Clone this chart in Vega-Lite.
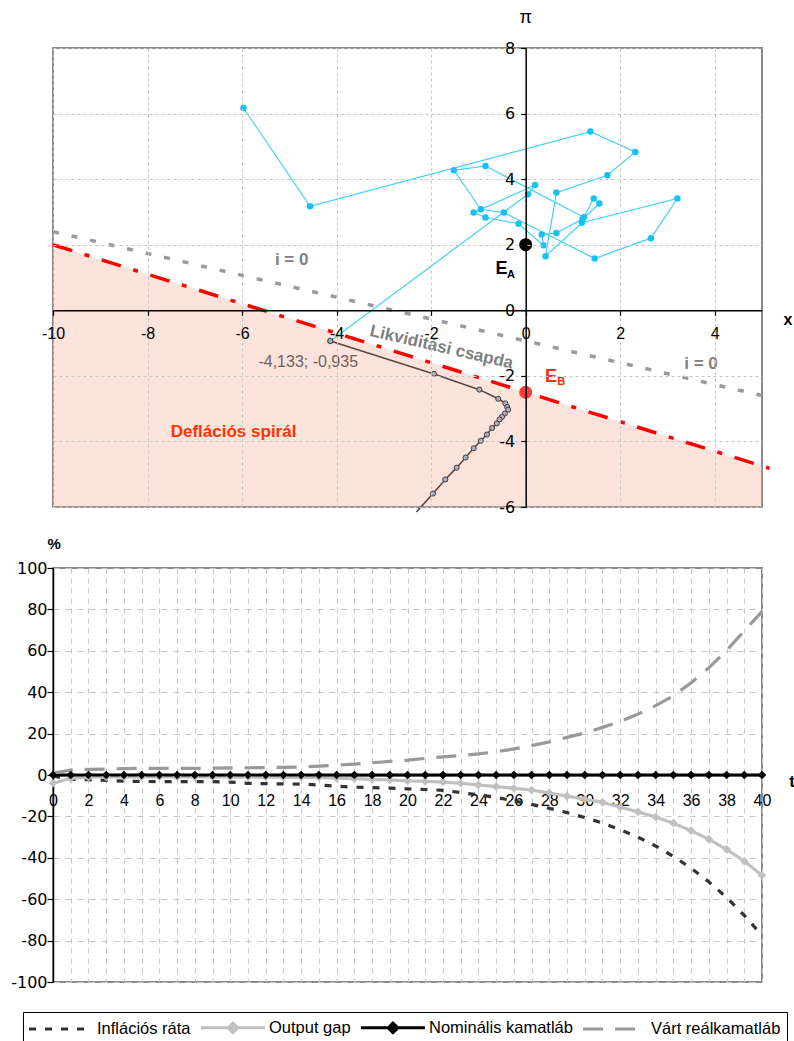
{
  "$schema": "https://vega.github.io/schema/vega-lite/v6.json",
  "background": "white",
  "padding": {"left": 9, "top": 8, "right": 5, "bottom": 0},
  "spacing": 18,
  "config": {
    "font": "Liberation Sans",
    "view": {"stroke": "#8a8a8a", "strokeWidth": 2},
    "axis": {
      "labelFont": "Liberation Sans",
      "labelColor": "#000000",
      "labelFontSize": 16,
      "domainColor": "#000000",
      "domainWidth": 1.5,
      "tickColor": "#000000",
      "tickWidth": 1.2,
      "gridColor": "#c6c6c6",
      "gridWidth": 1
    },
    "legend": {
      "orient": "none",
      "legendX": -30,
      "legendY": 964,
      "direction": "horizontal",
      "columns": 4,
      "symbolSize": 256,
      "symbolStrokeWidth": 3,
      "symbolOffset": 22.5,
      "labelOffset": 26.5,
      "labelFont": "Liberation Sans",
      "labelFontSize": 16.5,
      "labelColor": "#000000",
      "labelLimit": 300,
      "columnPadding": 4,
      "strokeColor": "#000000",
      "strokeWidth": 1,
      "padding": 6
    }
  },
  "datasets": {
    "cyan": [
      {"step": 1, "x": -5.97, "y": 6.17},
      {"step": 2, "x": -4.56, "y": 3.17},
      {"step": 3, "x": 1.37, "y": 5.45},
      {"step": 4, "x": 2.32, "y": 4.83},
      {"step": 5, "x": 1.73, "y": 4.12},
      {"step": 6, "x": 0.65, "y": 3.59},
      {"step": 7, "x": 0.42, "y": 1.65},
      {"step": 8, "x": 1.19, "y": 2.67},
      {"step": 9, "x": 3.21, "y": 3.41},
      {"step": 10, "x": 2.65, "y": 2.2},
      {"step": 11, "x": 1.46, "y": 1.58},
      {"step": 12, "x": -0.46, "y": 2.98},
      {"step": 13, "x": -0.95, "y": 3.08},
      {"step": 14, "x": -1.52, "y": 4.27},
      {"step": 15, "x": -0.85, "y": 4.4},
      {"step": 16, "x": 1.23, "y": 2.84},
      {"step": 17, "x": 1.44, "y": 3.41},
      {"step": 18, "x": 1.56, "y": 3.26},
      {"step": 19, "x": 1.2, "y": 2.78},
      {"step": 20, "x": 0.65, "y": 2.36},
      {"step": 21, "x": 0.34, "y": 2.31},
      {"step": 22, "x": 0.38, "y": 1.98},
      {"step": 23, "x": -0.15, "y": 2.64},
      {"step": 24, "x": -0.85, "y": 2.83},
      {"step": 25, "x": -1.1, "y": 2.98},
      {"step": 26, "x": 0.2, "y": 3.82},
      {"step": 27, "x": 0.05, "y": 3.54},
      {"step": 28, "x": -4.133, "y": -0.935}
    ],
    "brown": [
      {"step": 1, "x": -4.133, "y": -0.935},
      {"step": 2, "x": -1.94, "y": -1.94},
      {"step": 3, "x": -0.98, "y": -2.42},
      {"step": 4, "x": -0.58, "y": -2.7},
      {"step": 5, "x": -0.43, "y": -2.84},
      {"step": 6, "x": -0.39, "y": -2.95},
      {"step": 7, "x": -0.37, "y": -3.03},
      {"step": 8, "x": -0.44, "y": -3.15},
      {"step": 9, "x": -0.5, "y": -3.25},
      {"step": 10, "x": -0.55, "y": -3.33},
      {"step": 11, "x": -0.61, "y": -3.45},
      {"step": 12, "x": -0.71, "y": -3.59},
      {"step": 13, "x": -0.82, "y": -3.79},
      {"step": 14, "x": -0.95, "y": -3.98},
      {"step": 15, "x": -1.1, "y": -4.21},
      {"step": 16, "x": -1.27, "y": -4.49},
      {"step": 17, "x": -1.46, "y": -4.8},
      {"step": 18, "x": -1.7, "y": -5.16},
      {"step": 19, "x": -1.96, "y": -5.59},
      {"step": 20, "x": -2.31, "y": -6.15}
    ],
    "macro": [
      {"t": 0, "Inflációs ráta": -0.5, "Output gap": -4.0, "Nominális kamatláb": 0, "Várt reálkamatláb": 0.8},
      {"t": 1, "Inflációs ráta": -2.1, "Output gap": -1.6, "Nominális kamatláb": 0, "Várt reálkamatláb": 2.4},
      {"t": 2, "Inflációs ráta": -2.3, "Output gap": -1.0, "Nominális kamatláb": 0, "Várt reálkamatláb": 2.7},
      {"t": 3, "Inflációs ráta": -2.6, "Output gap": -0.9, "Nominális kamatláb": 0, "Várt reálkamatláb": 2.9},
      {"t": 4, "Inflációs ráta": -3.0, "Output gap": -0.9, "Nominális kamatláb": 0, "Várt reálkamatláb": 3.1},
      {"t": 5, "Inflációs ráta": -3.1, "Output gap": -0.9, "Nominális kamatláb": 0, "Várt reálkamatláb": 3.2},
      {"t": 6, "Inflációs ráta": -3.2, "Output gap": -0.9, "Nominális kamatláb": 0, "Várt reálkamatláb": 3.2},
      {"t": 7, "Inflációs ráta": -3.2, "Output gap": -0.9, "Nominális kamatláb": 0, "Várt reálkamatláb": 3.2},
      {"t": 8, "Inflációs ráta": -3.2, "Output gap": -0.9, "Nominális kamatláb": 0, "Várt reálkamatláb": 3.2},
      {"t": 9, "Inflációs ráta": -3.2, "Output gap": -0.9, "Nominális kamatláb": 0, "Várt reálkamatláb": 3.3},
      {"t": 10, "Inflációs ráta": -3.4, "Output gap": -1.0, "Nominális kamatláb": 0, "Várt reálkamatláb": 3.4},
      {"t": 11, "Inflációs ráta": -4.0, "Output gap": -1.0, "Nominális kamatláb": 0, "Várt reálkamatláb": 3.5},
      {"t": 12, "Inflációs ráta": -4.2, "Output gap": -1.0, "Nominális kamatláb": 0, "Várt reálkamatláb": 3.6},
      {"t": 13, "Inflációs ráta": -4.3, "Output gap": -1.1, "Nominális kamatláb": 0, "Várt reálkamatláb": 3.7},
      {"t": 14, "Inflációs ráta": -4.4, "Output gap": -1.1, "Nominális kamatláb": 0, "Várt reálkamatláb": 3.9},
      {"t": 15, "Inflációs ráta": -4.8, "Output gap": -1.2, "Nominális kamatláb": 0, "Várt reálkamatláb": 4.3},
      {"t": 16, "Inflációs ráta": -5.4, "Output gap": -1.5, "Nominális kamatláb": 0, "Várt reálkamatláb": 4.7},
      {"t": 17, "Inflációs ráta": -5.9, "Output gap": -1.8, "Nominális kamatláb": 0, "Várt reálkamatláb": 5.3},
      {"t": 18, "Inflációs ráta": -6.1, "Output gap": -2.1, "Nominális kamatláb": 0, "Várt reálkamatláb": 5.9},
      {"t": 19, "Inflációs ráta": -6.3, "Output gap": -2.4, "Nominális kamatláb": 0, "Várt reálkamatláb": 6.6},
      {"t": 20, "Inflációs ráta": -6.7, "Output gap": -2.8, "Nominális kamatláb": 0, "Várt reálkamatláb": 7.2},
      {"t": 21, "Inflációs ráta": -7.0, "Output gap": -3.1, "Nominális kamatláb": 0, "Várt reálkamatláb": 8.0},
      {"t": 22, "Inflációs ráta": -7.4, "Output gap": -3.4, "Nominális kamatláb": 0, "Várt reálkamatláb": 8.8},
      {"t": 23, "Inflációs ráta": -8.5, "Output gap": -4.0, "Nominális kamatláb": 0, "Várt reálkamatláb": 9.4},
      {"t": 24, "Inflációs ráta": -9.6, "Output gap": -4.8, "Nominális kamatláb": 0, "Várt reálkamatláb": 10.2},
      {"t": 25, "Inflációs ráta": -10.8, "Output gap": -5.6, "Nominális kamatláb": 0, "Várt reálkamatláb": 11.2},
      {"t": 26, "Inflációs ráta": -12.5, "Output gap": -6.4, "Nominális kamatláb": 0, "Várt reálkamatláb": 12.6},
      {"t": 27, "Inflációs ráta": -14.2, "Output gap": -7.3, "Nominális kamatláb": 0, "Várt reálkamatláb": 14.2},
      {"t": 28, "Inflációs ráta": -16.1, "Output gap": -8.7, "Nominális kamatláb": 0, "Várt reálkamatláb": 16.0},
      {"t": 29, "Inflációs ráta": -18.2, "Output gap": -10.2, "Nominális kamatláb": 0, "Várt reálkamatláb": 18.2},
      {"t": 30, "Inflációs ráta": -20.5, "Output gap": -11.7, "Nominális kamatláb": 0, "Várt reálkamatláb": 20.3},
      {"t": 31, "Inflációs ráta": -23.2, "Output gap": -13.2, "Nominális kamatláb": 0, "Várt reálkamatláb": 23.0},
      {"t": 32, "Inflációs ráta": -26.4, "Output gap": -15.5, "Nominális kamatláb": 0, "Várt reálkamatláb": 25.8},
      {"t": 33, "Inflációs ráta": -30.0, "Output gap": -17.8, "Nominális kamatláb": 0, "Várt reálkamatláb": 29.4},
      {"t": 34, "Inflációs ráta": -34.3, "Output gap": -20.3, "Nominális kamatláb": 0, "Várt reálkamatláb": 33.5},
      {"t": 35, "Inflációs ráta": -39.3, "Output gap": -23.3, "Nominális kamatláb": 0, "Várt reálkamatláb": 38.3},
      {"t": 36, "Inflációs ráta": -45.0, "Output gap": -26.9, "Nominális kamatláb": 0, "Várt reálkamatláb": 44.5},
      {"t": 37, "Inflációs ráta": -51.6, "Output gap": -31.0, "Nominális kamatláb": 0, "Várt reálkamatláb": 51.8},
      {"t": 38, "Inflációs ráta": -59.2, "Output gap": -35.9, "Nominális kamatláb": 0, "Várt reálkamatláb": 60.2},
      {"t": 39, "Inflációs ráta": -67.8, "Output gap": -41.6, "Nominális kamatláb": 0, "Várt reálkamatláb": 69.6},
      {"t": 40, "Inflációs ráta": -77.5, "Output gap": -48.5, "Nominális kamatláb": 0, "Várt reálkamatláb": 79.0}
    ]
  },
  "vconcat": [
    {
      "width": 709,
      "height": 459,
      "encoding": {
        "x": {
          "field": "x",
          "type": "quantitative",
          "scale": {"domain": [-10, 5], "nice": false, "zero": false},
          "axis": {
            "title": null,
            "orient": "bottom",
            "offset": -196.7,
            "values": [-10, -8, -6, -4, -2, 0, 2, 4],
            "labelExpr": "replace(datum.label, '−', '-')",
            "labelFlush": false,
            "labelOverlap": false,
            "tickSize": 5,
            "labelPadding": 10,
            "gridDash": [3, 3],
            "zindex": 1
          }
        },
        "y": {
          "field": "y",
          "type": "quantitative",
          "scale": {"domain": [-6, 8], "nice": false, "zero": false},
          "axis": {
            "title": null,
            "orient": "left",
            "offset": -472.7,
            "values": [-6, -4, -2, 0, 2, 4, 6, 8],
            "labelExpr": "replace(datum.label, '−', '-')",
            "labelFont": "DejaVu Sans",
            "labelFlush": false,
            "labelOverlap": false,
            "tickSize": 5,
            "labelPadding": 6,
            "gridDash": [3, 3],
            "zindex": 1
          }
        }
      },
      "layer": [
        {
          "data": {"values": [{"x": -10, "y": 2.0}, {"x": 5, "y": -4.75}]},
          "mark": {"type": "area", "color": "#f7a995", "opacity": 0.33},
          "encoding": {"y2": {"datum": -6}}
        },
        {
          "data": {"values": [{"x": -10, "y": 2.4}, {"x": 5, "y": -2.6}]},
          "mark": {"type": "line", "color": "#9a9a9a", "strokeWidth": 3.5, "strokeDash": [6, 13], "strokeCap": "butt", "clip": false},
          "encoding": {}
        },
        {
          "data": {"values": [{"x": -10, "y": 2.0}, {"x": 5.16, "y": -4.82}]},
          "mark": {"type": "line", "color": "#ff0000", "strokeWidth": 3.5, "strokeDash": [20, 13, 5, 13], "strokeCap": "butt", "clip": false},
          "encoding": {}
        },
        {
          "data": {"name": "cyan"},
          "mark": {"type": "line", "color": "#45cff5", "strokeWidth": 1.2, "point": {"filled": true, "size": 42, "color": "#14c3f2"}},
          "encoding": {"order": {"field": "step", "type": "quantitative"}}
        },
        {
          "data": {"name": "brown"},
          "mark": {"type": "line", "color": "#584842", "strokeWidth": 1.6, "clip": false},
          "encoding": {"order": {"field": "step", "type": "quantitative"}}
        },
        {
          "data": {"name": "brown"},
          "transform": [{"filter": "datum.y >= -6"}],
          "mark": {"type": "point", "filled": true, "size": 26, "fill": "#a9aebf", "stroke": "#4a3b35", "strokeWidth": 1, "opacity": 1},
          "encoding": {}
        },
        {
          "data": {"values": [{"x": 0, "y": 2}]},
          "mark": {"type": "point", "filled": true, "size": 170, "color": "#000000", "opacity": 1},
          "encoding": {}
        },
        {
          "data": {"values": [{"x": 0, "y": -2.5}]},
          "mark": {"type": "point", "filled": true, "size": 170, "color": "#ff3b3b", "opacity": 1},
          "encoding": {}
        },
        {
          "data": {"values": [{"x": -4.95, "y": 1.52, "label": "i = 0"}, {"x": 3.71, "y": -1.65, "label": "i = 0"}]},
          "mark": {"type": "text", "font": "Liberation Sans", "fontWeight": "bold", "fontSize": 17, "color": "#808080"},
          "encoding": {"text": {"field": "label"}}
        },
        {
          "data": {"values": [{"x": -1.78, "y": -1.13, "label": "Likviditási csapda"}]},
          "mark": {"type": "text", "font": "Liberation Sans", "fontWeight": "bold", "fontSize": 17, "angle": 13, "color": "#808080"},
          "encoding": {"text": {"field": "label"}}
        },
        {
          "data": {"values": [{"x": -4.6, "y": -1.59, "label": "-4,133; -0,935"}]},
          "mark": {"type": "text", "font": "Liberation Sans", "fontSize": 16, "color": "#6e605a"},
          "encoding": {"text": {"field": "label"}}
        },
        {
          "data": {"values": [{"x": -6.18, "y": -3.72, "label": "Deflációs spirál"}]},
          "mark": {"type": "text", "font": "Liberation Sans", "fontWeight": "bold", "fontSize": 17, "color": "#ff3300"},
          "encoding": {"text": {"field": "label"}}
        },
        {
          "data": {"values": [{"x": -0.51, "y": 1.27, "label": "E"}]},
          "mark": {"type": "text", "font": "Liberation Sans", "fontWeight": "bold", "fontSize": 18, "color": "#000000"},
          "encoding": {"text": {"field": "label"}}
        },
        {
          "data": {"values": [{"x": -0.31, "y": 1.08, "label": "A"}]},
          "mark": {"type": "text", "font": "Liberation Sans", "fontWeight": "bold", "fontSize": 11, "color": "#000000"},
          "encoding": {"text": {"field": "label"}}
        },
        {
          "data": {"values": [{"x": 0.535, "y": -2.03, "label": "E"}]},
          "mark": {"type": "text", "font": "Liberation Sans", "fontWeight": "bold", "fontSize": 18, "color": "#ff2a00"},
          "encoding": {"text": {"field": "label"}}
        },
        {
          "data": {"values": [{"x": 0.75, "y": -2.2, "label": "B"}]},
          "mark": {"type": "text", "font": "Liberation Sans", "fontWeight": "bold", "fontSize": 11, "color": "#ff2a00"},
          "encoding": {"text": {"field": "label"}}
        },
        {
          "data": {"values": [{"x": 0, "y": 8.9, "label": "π"}]},
          "mark": {"type": "text", "font": "Liberation Sans", "fontSize": 18, "color": "#000000"},
          "encoding": {"text": {"field": "label"}}
        },
        {
          "data": {"values": [{"x": 5.55, "y": -0.3, "label": "x"}]},
          "mark": {"type": "text", "font": "Liberation Sans", "fontWeight": "bold", "fontSize": 16, "color": "#000000"},
          "encoding": {"text": {"field": "label"}}
        }
      ]
    },
    {
      "width": 709,
      "height": 414,
      "encoding": {
        "x": {
          "field": "t",
          "type": "quantitative",
          "scale": {"domain": [0, 40], "nice": false, "zero": false},
          "axis": {
            "title": null,
            "orient": "bottom",
            "offset": -207,
            "values": [0, 1, 2, 3, 4, 5, 6, 7, 8, 9, 10, 11, 12, 13, 14, 15, 16, 17, 18, 19, 20, 21, 22, 23, 24, 25, 26, 27, 28, 29, 30, 31, 32, 33, 34, 35, 36, 37, 38, 39, 40],
            "labelExpr": "datum.value % 2 === 0 ? datum.label : ''",
            "ticks": false,
            "labelPadding": 17,
            "labelFlush": false,
            "labelOverlap": false,
            "gridDash": [5, 5]
          }
        },
        "y": {
          "field": "value",
          "type": "quantitative",
          "scale": {"domain": [-100, 100], "nice": false, "zero": false},
          "axis": {
            "title": null,
            "values": [-100, -80, -60, -40, -20, 0, 20, 40, 60, 80, 100],
            "labelExpr": "replace(datum.label, '−', '-')",
            "labelFont": "DejaVu Sans",
            "labelFlush": false,
            "labelOverlap": false,
            "tickSize": 6,
            "labelPadding": 0,
            "gridDash": [6, 6]
          }
        }
      },
      "layer": [
        {
          "data": {"values": []},
          "mark": {"type": "point", "filled": true, "opacity": 1},
          "encoding": {
            "shape": {
              "field": "series",
              "type": "nominal",
              "scale": {
                "domain": ["Inflációs ráta", "Output gap", "Nominális kamatláb", "Várt reálkamatláb"],
                "range": ["M-4,0H4", "M-4,0H4M0,-0.6L0.6,0L0,0.6L-0.6,0Z", "M-4,0H4M0,-0.6L0.6,0L0,0.6L-0.6,0Z", "M-4,0H4"]
              },
              "legend": {"title": null}
            },
            "color": {"field": "series", "type": "nominal", "legend": {"title": null}}
          }
        },
        {
          "data": {"name": "macro"},
          "transform": [{"fold": ["Inflációs ráta", "Output gap", "Nominális kamatláb", "Várt reálkamatláb"], "as": ["series", "value"]}],
          "mark": {"type": "line", "strokeWidth": 3.2, "strokeCap": "butt"},
          "encoding": {
            "color": {
              "field": "series",
              "type": "nominal",
              "scale": {"domain": ["Inflációs ráta", "Output gap", "Nominális kamatláb", "Várt reálkamatláb"], "range": ["#333333", "#c0c0c0", "#000000", "#999999"]},
              "legend": {"title": null}
            },
            "strokeDash": {
              "field": "series",
              "type": "nominal",
              "scale": {"domain": ["Inflációs ráta", "Output gap", "Nominális kamatláb", "Várt reálkamatláb"], "range": [[7, 9], [1, 0], [1, 0], [20, 12]]},
              "legend": {"title": null}
            }
          }
        },
        {
          "data": {"name": "macro"},
          "transform": [
            {"fold": ["Inflációs ráta", "Output gap", "Nominális kamatláb", "Várt reálkamatláb"], "as": ["series", "value"]},
            {"filter": {"field": "series", "oneOf": ["Output gap", "Nominális kamatláb"]}}
          ],
          "mark": {"type": "point", "shape": "diamond", "filled": true, "size": 75, "opacity": 1},
          "encoding": {"color": {"field": "series", "type": "nominal", "legend": {"title": null}}}
        },
        {
          "data": {"values": [{"t": 41.7, "value": -3.5, "label": "t"}]},
          "mark": {"type": "text", "font": "Liberation Sans", "fontWeight": "bold", "fontSize": 17, "color": "#000000"},
          "encoding": {"text": {"field": "label"}}
        },
        {
          "data": {"values": [{"t": 0.07, "value": 111.6, "label": "%"}]},
          "mark": {"type": "text", "font": "Liberation Sans", "fontWeight": "bold", "fontSize": 15, "color": "#000000"},
          "encoding": {"text": {"field": "label"}}
        }
      ]
    }
  ]
}
